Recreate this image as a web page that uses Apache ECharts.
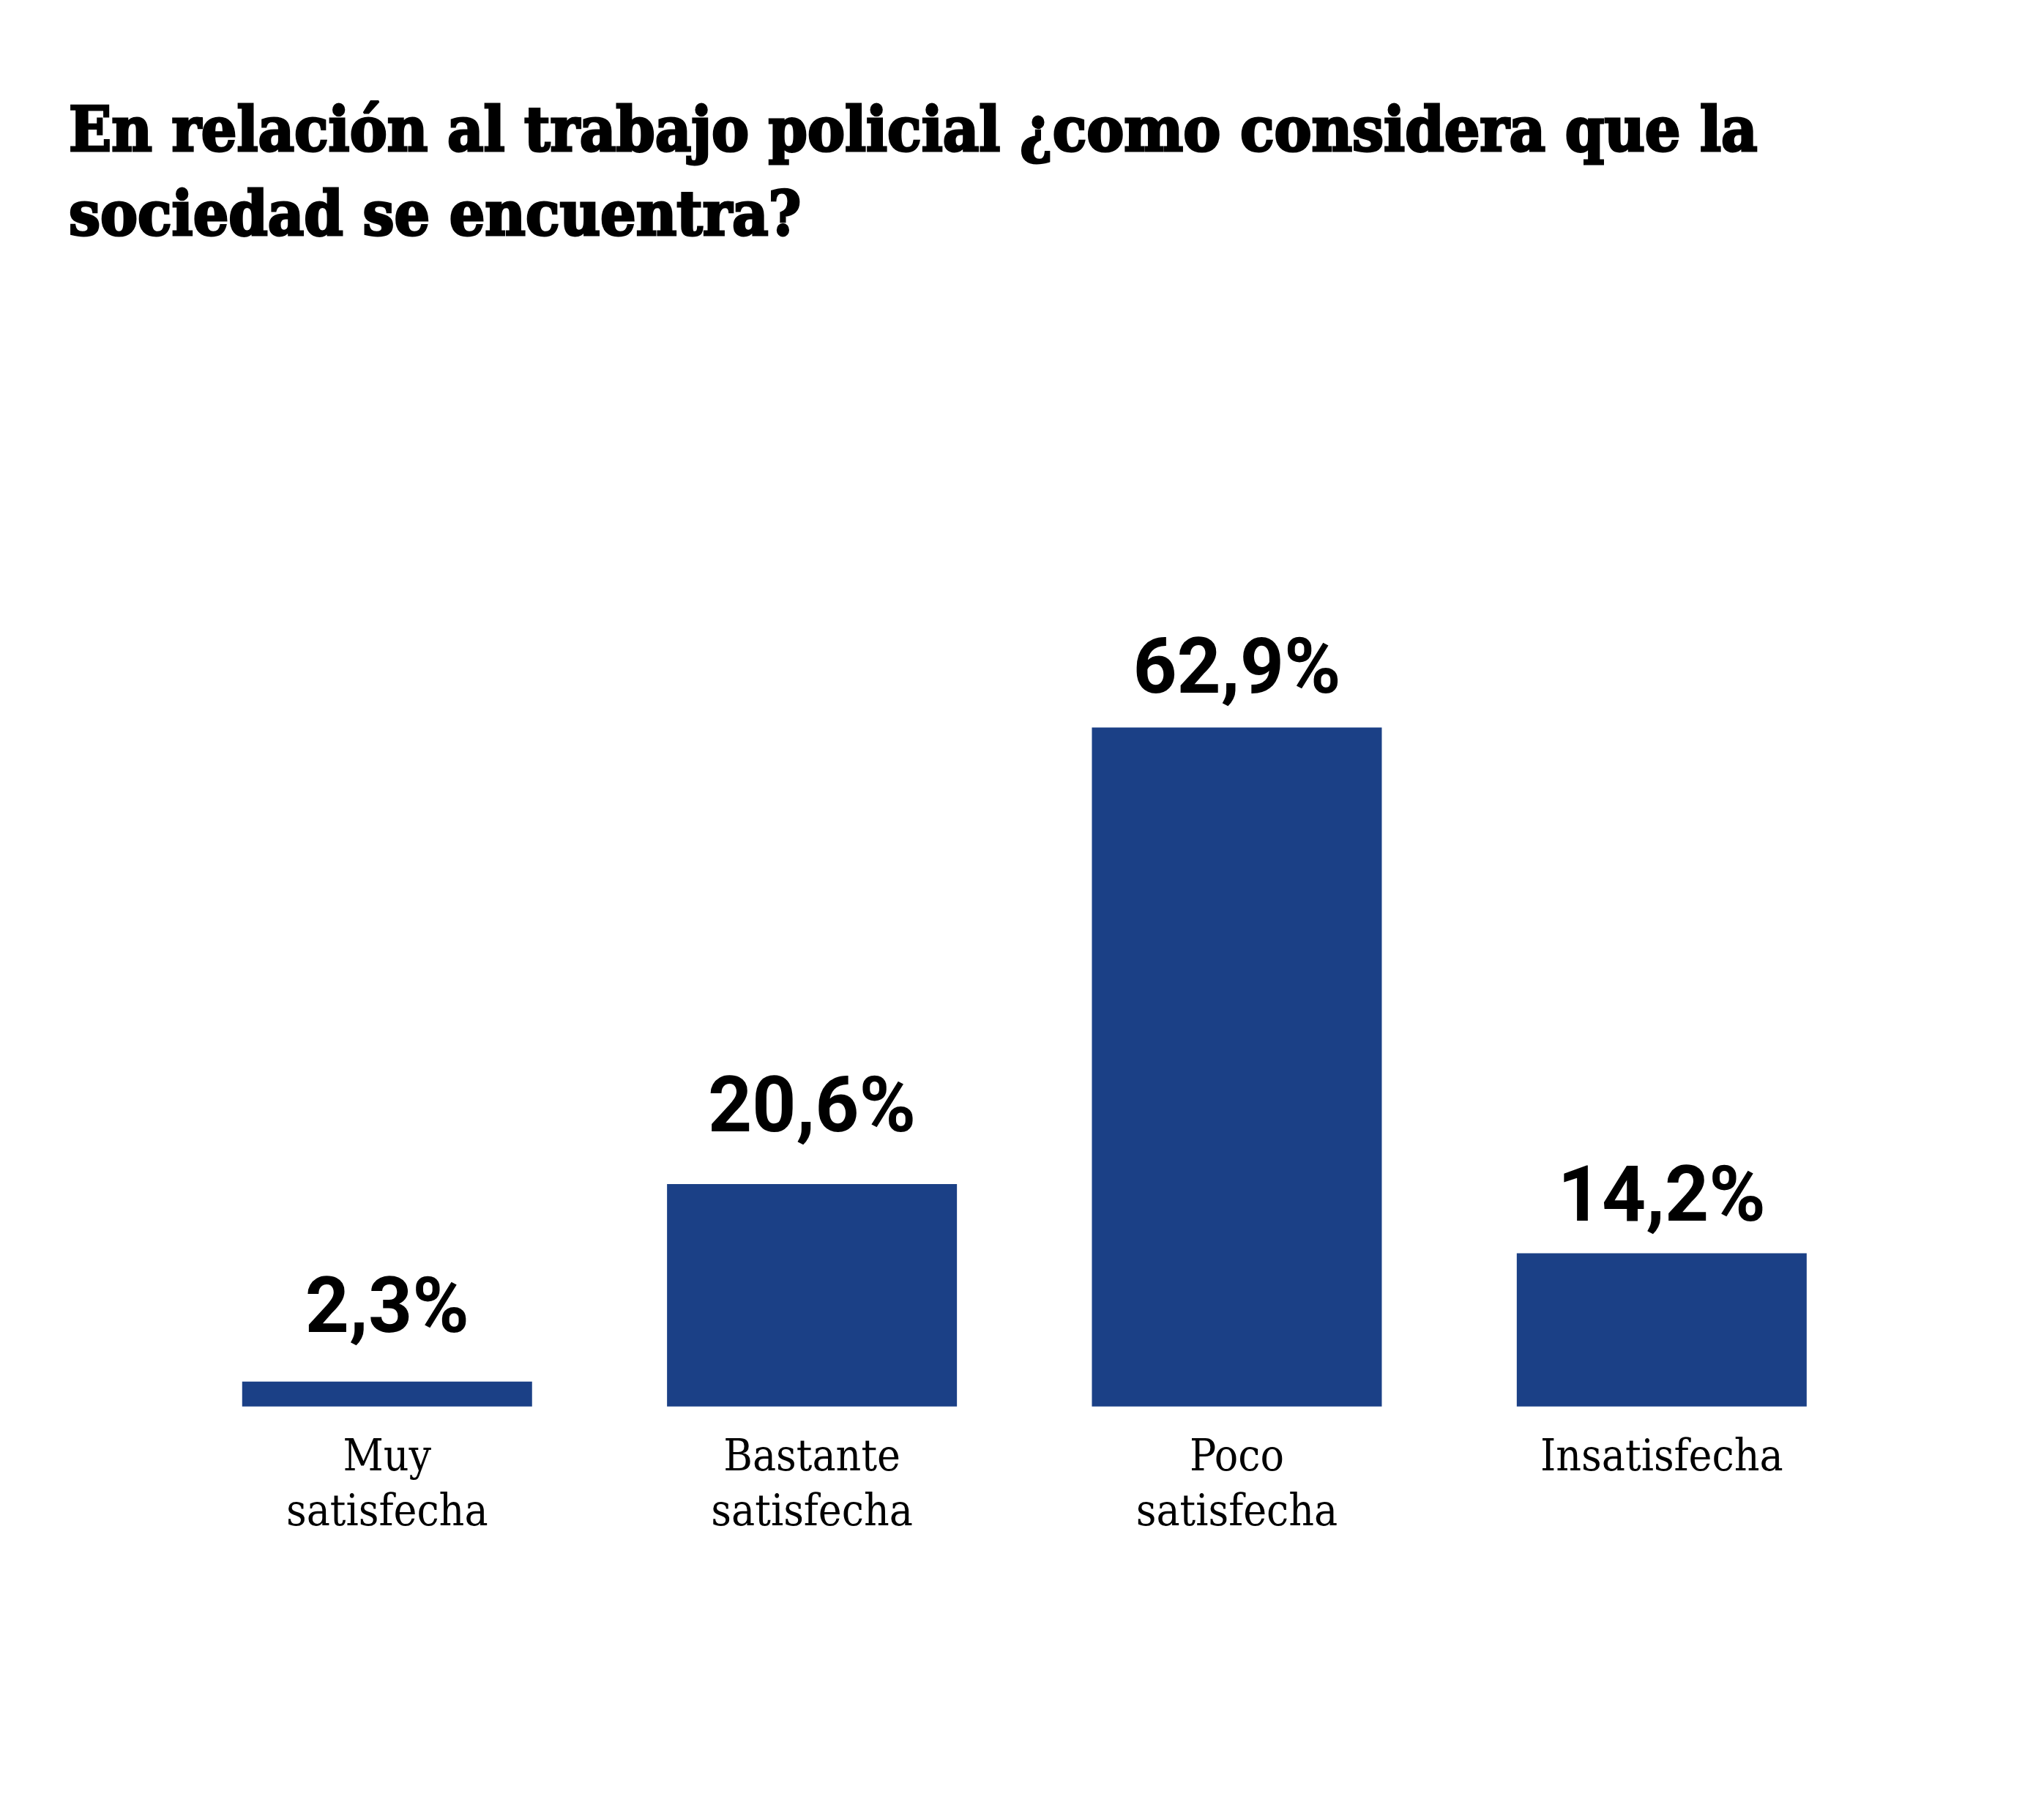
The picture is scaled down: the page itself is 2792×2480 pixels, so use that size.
<!DOCTYPE html>
<html>
<head>
<meta charset="utf-8">
<script src="https://cdn.jsdelivr.net/npm/echarts@6/dist/echarts.min.js"></script>
<style>
  html, body { margin: 0; padding: 0; background: #fff; }
  #chart { width: 2792px; height: 2480px; }
</style>
</head>
<body>
<div id="chart"></div>
<script>
const titleText = "En relación al trabajo policial ¿como considera que la\nsociedad se encuentra?";
const categories = ["Muy\nsatisfecha", "Bastante\nsatisfecha", "Poco\nsatisfecha", "Insatisfecha"];
const values = [2.3, 20.6, 62.9, 14.2];

// gap between each value label and its bar, as placed in the original
const labelGap = [42, 46, 21, 18];
const barColor = "#1b4086";

const chart = echarts.init(document.getElementById("chart"), null, { renderer: "canvas" });

chart.setOption({
  backgroundColor: "#fff",
  animation: false,
  title: {
    text: titleText,
    left: 89,
    top: 121,
    textStyle: {
      fontFamily: "DejaVu Serif Condensed",
      fontWeight: "bold",
      fontSize: 85,
      lineHeight: 115,
      color: "#000",
      // a thin outline to get closer to the heavy headline face
      textBorderColor: "#000",
      textBorderWidth: 3
    }
  },
  grid: { left: 238.6, right: 232, top: 446.7, bottom: 559.3 },
  xAxis: {
    type: "category",
    data: categories,
    axisLine: { show: false },
    axisTick: { show: false },
    axisLabel: {
      margin: 34,
      fontFamily: "DejaVu Serif Condensed",
      fontSize: 60,
      lineHeight: 75,
      color: "#000"
    }
  },
  yAxis: {
    type: "value",
    min: 0,
    max: 100,
    show: false,
    splitLine: { show: false }
  },
  series: [{
    type: "bar",
    data: values.map((v, i) => ({ value: v, label: { distance: labelGap[i] } })),
    barWidth: 396,
    itemStyle: { color: barColor },
    label: {
      show: true,
      position: "top",
      fontFamily: "Roboto",
      fontWeight: "bold",
      fontSize: 105,
      color: "#000",
      formatter: p => p.value.toFixed(1).replace(".", ",") + "%"
    }
  }]
});
</script>
</body>
</html>
